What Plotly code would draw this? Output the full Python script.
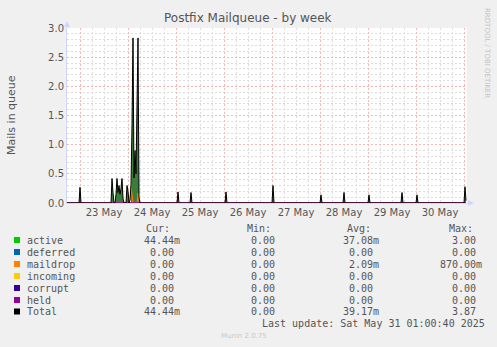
import plotly.graph_objects as go

# ---------------- data ----------------
times = [
    "2025-05-22 17:30", "2025-05-22 23:30", "2025-05-23 00:00", "2025-05-23 00:30",
    "2025-05-23 15:30", "2025-05-23 16:00", "2025-05-23 16:30", "2025-05-23 17:00",
    "2025-05-23 17:30", "2025-05-23 18:00", "2025-05-23 18:30", "2025-05-23 19:00",
    "2025-05-23 19:30", "2025-05-23 20:00", "2025-05-23 20:30", "2025-05-23 21:00",
    "2025-05-23 21:30", "2025-05-23 22:00", "2025-05-23 23:00", "2025-05-23 23:30",
    "2025-05-24 00:00", "2025-05-24 00:30", "2025-05-24 01:00", "2025-05-24 01:30",
    "2025-05-24 02:00", "2025-05-24 02:30", "2025-05-24 03:00", "2025-05-24 03:30",
    "2025-05-24 04:00", "2025-05-24 04:30", "2025-05-24 05:00", "2025-05-24 05:30",
    "2025-05-24 06:00",
    "2025-05-25 00:30", "2025-05-25 01:00", "2025-05-25 01:30",
    "2025-05-25 07:00", "2025-05-25 07:30", "2025-05-25 08:00",
    "2025-05-26 00:30", "2025-05-26 01:00", "2025-05-26 01:30",
    "2025-05-27 00:00", "2025-05-27 00:30", "2025-05-27 01:00",
    "2025-05-28 00:00", "2025-05-28 00:30", "2025-05-28 01:00",
    "2025-05-28 11:30", "2025-05-28 12:00", "2025-05-28 12:30",
    "2025-05-29 00:00", "2025-05-29 00:30", "2025-05-29 01:00",
    "2025-05-29 16:30", "2025-05-29 17:00", "2025-05-29 17:30",
    "2025-05-30 00:00", "2025-05-30 00:30", "2025-05-30 01:00",
    "2025-05-31 00:00", "2025-05-31 00:30", "2025-05-31 01:00",
]
active = [
    0, 0, 0.27, 0,
    0, 0.42, 0.18, 0,
    0, 0.15, 0.42, 0.18,
    0.30, 0.15, 0.25, 0.42,
    0.08, 0, 0, 0.30,
    0.20, 0, 0, 0,
    1.20, 2.83, 0.43, 0.90,
    0.50, 1.50, 2.66, 0.10,
    0,
    0, 0.19, 0,
    0, 0.18, 0,
    0, 0.19, 0,
    0, 0.30, 0,
    0, 0.14, 0,
    0, 0.18, 0,
    0, 0.14, 0,
    0, 0.18, 0,
    0, 0.14, 0,
    0, 0.28, 0.04,
]
maildrop = [
    0, 0, 0, 0,
    0, 0, 0, 0,
    0, 0, 0, 0,
    0, 0, 0, 0,
    0, 0, 0, 0,
    0, 0, 0.05, 0.30,
    0.15, 0, 0, 0,
    0, 0, 0.17, 0,
    0,
    0, 0, 0,
    0, 0, 0,
    0, 0, 0,
    0, 0, 0,
    0, 0, 0,
    0, 0, 0,
    0, 0, 0,
    0, 0, 0,
    0, 0, 0,
    0, 0, 0,
]
zeros = [0] * len(times)
total = [a + m for a, m in zip(active, maildrop)]

series_names = ["active", "deferred", "maildrop", "incoming", "corrupt", "held", "Total"]
series_colors = ["#00CC00", "#0066B3", "#FF8000", "#FFCC00", "#330099", "#990099", "#000000"]
cur_vals = ["44.44m", "0.00", "0.00", "0.00", "0.00", "0.00", "44.44m"]
min_vals = ["0.00", "0.00", "0.00", "0.00", "0.00", "0.00", "0.00"]
avg_vals = ["37.08m", "0.00", "2.09m", "0.00", "0.00", "0.00", "39.17m"]
max_vals = ["3.00", "0.00", "870.00m", "0.00", "0.00", "0.00", "3.87"]

x_range = ["2025-05-22 17:30", "2025-05-31 01:30"]

# ---------------- figure ----------------
W, H = 497, 347
L, R, T, B = 67, 467, 28, 203


def px(xp):
    return (xp - L) / (R - L)


def py(yp):
    return (B - yp) / (B - T)


fig = go.Figure()
fig.add_trace(go.Scatter(x=times, y=active, mode="lines", fill="tozeroy",
                         fillcolor="#3A7D3A", line=dict(width=0, color="#3A7D3A"),
                         showlegend=False, hoverinfo="skip"))
for name, col, vals in [("deferred", "#0066B3", zeros), ("maildrop", "#FF8000", maildrop),
                        ("incoming", "#FFCC00", zeros), ("corrupt", "#330099", zeros),
                        ("held", "#990099", zeros)]:
    fig.add_trace(go.Scatter(x=times, y=vals, mode="lines", line=dict(width=1, color=col),
                             showlegend=False, hoverinfo="skip"))
fig.add_trace(go.Scatter(x=times, y=total, mode="lines", line=dict(width=1, color="#000000"),
                         showlegend=False, hoverinfo="skip"))

major = "#F2B8B8"
minorc = "#DDDDDD"
fig.update_layout(
    width=W, height=H,
    margin=dict(l=L, r=W - R, t=T, b=H - B),
    paper_bgcolor="#F0F0F0", plot_bgcolor="#FFFFFF",
    font=dict(family="DejaVu Sans", size=10, color="#555555"),
    showlegend=False,
)
fig.update_xaxes(
    type="date", range=x_range, tick0="2025-05-23", dtick=86400000,
    ticklabelmode="period", tickformat="%d %b", ticks="",
    showgrid=True, gridcolor=major, griddash="2px,2px", gridwidth=1,
    minor=dict(dtick=6 * 3600000, tick0="2025-05-23", showgrid=True,
               gridcolor=minorc, griddash="2px,2px", gridwidth=1),
    showline=True, linecolor="#CFD6F8", linewidth=1, zeroline=False,
    tickfont=dict(family="DejaVu Sans", size=10, color="#555555"),
)
fig.update_yaxes(
    range=[0, 3], dtick=0.5, tickformat=".1f", ticks="",
    showgrid=True, gridcolor=major, griddash="2px,2px", gridwidth=1,
    minor=dict(dtick=0.1, showgrid=True, gridcolor=minorc, griddash="2px,2px", gridwidth=1),
    showline=True, linecolor="#CFD6F8", linewidth=1, zeroline=False,
    tickfont=dict(family="DejaVu Sans", size=10, color="#555555"),
)

# axis arrows
fig.add_shape(type="path", xref="paper", yref="paper",
              path=f"M {px(64)} {py(27)} L {px(70)} {py(27)} L {px(67)} {py(21)} Z",
              fillcolor="#CFD6F8", line=dict(width=0))
fig.add_shape(type="line", xref="paper", yref="paper", x0=px(67), x1=px(67), y0=py(28), y1=py(24),
              line=dict(color="#CFD6F8", width=1))
fig.add_shape(type="path", xref="paper", yref="paper",
              path=f"M {px(468)} {py(200)} L {px(468)} {py(206)} L {px(474)} {py(203)} Z",
              fillcolor="#CFD6F8", line=dict(width=0))

ann = []
ann.append(dict(text="Postfix Mailqueue - by week", x=px(248), y=py(18), xanchor="center",
                yanchor="middle", font=dict(family="DejaVu Sans", size=12, color="#555555")))
ann.append(dict(text="Mails in queue", x=px(11), y=py(115), textangle=-90, xanchor="center",
                yanchor="middle", font=dict(family="DejaVu Sans", size=11, color="#555555")))
ann.append(dict(text="RRDTOOL / TOBI OETIKER", x=px(487), y=py(53), textangle=90, xanchor="center",
                yanchor="middle", font=dict(family="DejaVu Sans", size=7, color="#C4C4C4")))

mono = "DejaVu Sans Mono"
tc = "#555555"
hdr_y = 228
for txt, xl in [("Cur:", 145), ("Min:", 246), ("Avg:", 346), ("Max:", 448)]:
    ann.append(dict(text=txt, x=px(xl - 1), y=py(hdr_y), xanchor="left", yanchor="middle",
                    font=dict(family=mono, size=10, color=tc)))

row_y = [240, 252, 264, 276, 288, 300, 311.5]
nb = "\u00a0"


def pad(v):
    return v if v.endswith("m") else v + nb


for i, name in enumerate(series_names):
    yv = row_y[i]
    fig.add_shape(type="rect", xref="paper", yref="paper",
                  x0=px(14), x1=px(20), y0=py(yv - 3), y1=py(yv + 3),
                  fillcolor=series_colors[i], line=dict(width=0))
    ann.append(dict(text=name, x=px(25), y=py(yv), xanchor="left", yanchor="middle",
                    font=dict(family=mono, size=10, color=tc)))
    ann.append(dict(text=pad(cur_vals[i]), x=px(182), y=py(yv), xanchor="right", yanchor="middle",
                    font=dict(family=mono, size=10, color=tc)))
    ann.append(dict(text=pad(min_vals[i]), x=px(283), y=py(yv), xanchor="right", yanchor="middle",
                    font=dict(family=mono, size=10, color=tc)))
    ann.append(dict(text=pad(avg_vals[i]), x=px(381), y=py(yv), xanchor="right", yanchor="middle",
                    font=dict(family=mono, size=10, color=tc)))
    ann.append(dict(text=pad(max_vals[i]), x=px(484), y=py(yv), xanchor="right", yanchor="middle",
                    font=dict(family=mono, size=10, color=tc)))

ann.append(dict(text="Last update: Sat May 31 01:00:40 2025", x=px(260), y=py(323.5), xanchor="left",
                yanchor="middle", font=dict(family=mono, size=10, color=tc)))
ann.append(dict(text="Munin 2.0.75", x=px(244), y=py(336), xanchor="center", yanchor="middle",
                font=dict(family="DejaVu Sans", size=7, color="#C8C8C8")))

for a in ann:
    a.update(xref="paper", yref="paper", showarrow=False)
fig.update_layout(annotations=ann)

fig.write_html("out.html")
